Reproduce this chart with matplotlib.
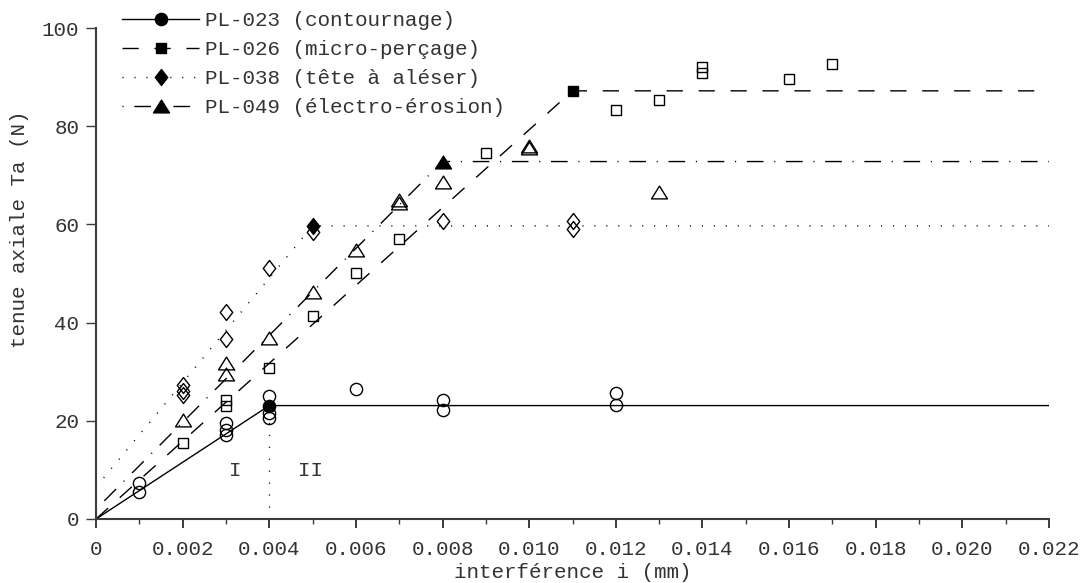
import matplotlib
matplotlib.use("Agg")
import matplotlib.pyplot as plt
from matplotlib.path import Path
from matplotlib.ticker import MultipleLocator, FuncFormatter

plt.rcParams['font.family'] = ['Liberation Mono', 'DejaVu Sans Mono']
plt.rcParams['font.size'] = 15

# Measured points: interference (mm) against axial hold (N)
i_023 = [0.001, 0.001, 0.003, 0.003, 0.003, 0.004, 0.004, 0.004, 0.006, 0.008, 0.008, 0.012, 0.012]
ta_023 = [7.3, 5.4, 19.5, 18.1, 17.2, 25.1, 21.5, 20.5, 26.4, 24.2, 22.2, 25.6, 23.2]

i_026 = [0.002, 0.003, 0.003, 0.004, 0.005, 0.006, 0.007, 0.009, 0.012, 0.013, 0.014, 0.014, 0.016, 0.017]
ta_026 = [15.5, 24.2, 23.1, 30.7, 41.4, 50.2, 57.0, 74.6, 83.2, 85.3, 92.1, 90.8, 89.6, 92.7]

i_038 = [0.002, 0.002, 0.002, 0.003, 0.003, 0.004, 0.005, 0.008, 0.011, 0.011]
ta_038 = [27.3, 26.0, 25.3, 42.2, 36.6, 51.1, 58.5, 60.7, 60.6, 59.1]

i_049 = [0.002, 0.003, 0.003, 0.004, 0.005, 0.006, 0.007, 0.007, 0.008, 0.010, 0.010, 0.013]
ta_049 = [20.2, 31.7, 29.5, 36.9, 46.3, 54.8, 65.0, 64.3, 68.7, 76.0, 75.5, 66.7]

# Bilinear models: rising part, knee, then plateau
fit_i_023 = [0, 0.004, 0.022]
fit_ta_023 = [0, 23.1, 23.1]
fit_i_026 = [0, 0.011, 0.022]
fit_ta_026 = [0, 87.2, 87.2]
fit_i_038 = [0, 0.005, 0.022]
fit_ta_038 = [6.5, 59.7, 59.7]
fit_i_049 = [0, 0.008, 0.022]
fit_ta_049 = [2.0, 72.8, 72.8]

labels = ["PL-023 (contournage)", "PL-026 (micro-perçage)",
          "PL-038 (tête à aléser)", "PL-049 (électro-érosion)"]

x_ticks = [0, 0.002, 0.004, 0.006, 0.008, 0.010, 0.012, 0.014, 0.016, 0.018, 0.020, 0.022]
y_ticks = [0, 20, 40, 60, 80, 100]

TEXT = '#333333'
AXIS = '#3c3c3c'


def closed_marker(verts):
    """ Polygon marker whose outline is closed (needed for open symbols) """
    return Path(verts + [verts[0]], closed=True)


diamond = closed_marker([(0, 1), (0.78, 0), (0, -1), (-0.78, 0)])
triangle = closed_marker([(-1, -0.8), (1, -0.8), (0, 0.8)])

series = [
    (i_023, ta_023, fit_i_023, fit_ta_023, 'o', 8.8, '-'),
    (i_026, ta_026, fit_i_026, fit_ta_026, 's', 7.6, (0, (11.7, 11.3))),
    (i_038, ta_038, fit_i_038, fit_ta_038, diamond, 11.5, (0, (0.8, 7.8))),
    (i_049, ta_049, fit_i_049, fit_ta_049, triangle, 11.5, (19.7, (12, 7.7, 0.8, 7.7))),
]

fig = plt.figure(figsize=(10.85, 5.83), dpi=100)
ax = fig.add_axes([96 / 1085, 64 / 583, 953 / 1085, 491 / 583])

handles = []
for (xs, ys, fx, fy, mk, ms, ls), name in zip(series, labels):
    # open symbols for each test
    ax.plot(xs, ys, linestyle='none', marker=mk, markersize=ms,
            markerfacecolor='none', markeredgecolor='black', markeredgewidth=1.0)
    # model line with a filled symbol at the knee
    h, = ax.plot(fx, fy, color='black', linewidth=1.0, linestyle=ls,
                 marker=mk, markevery=[1], markersize=ms,
                 markerfacecolor='black', markeredgecolor='black',
                 markeredgewidth=1.0, label=name)
    handles.append(h)

# boundary between zone I and zone II
ax.plot([0.004, 0.004], [0, 23.1], color='black', linewidth=1.0,
        linestyle=(0, (0.8, 7.8)))
ax.text(0.00321, 9.8, "I", ha='center', va='center', color=TEXT)
ax.text(0.00496, 9.8, "II", ha='center', va='center', color=TEXT)

ax.set_xlim(0, 0.022)
ax.set_ylim(0, 100)
ax.set_xticks(x_ticks)
ax.set_yticks(y_ticks)
ax.xaxis.set_minor_locator(MultipleLocator(0.001))
ax.xaxis.set_major_formatter(FuncFormatter(lambda v, p: '0' if abs(v) < 1e-9 else f'{v:.3f}'))
ax.yaxis.set_major_formatter(FuncFormatter(lambda v, p: f'{v:.0f}'))

for side in ['top', 'right']:
    ax.spines[side].set_visible(False)
for side in ['left', 'bottom']:
    ax.spines[side].set_linewidth(1.5)
    ax.spines[side].set_color(AXIS)

ax.tick_params(axis='x', which='major', direction='out', length=6.5, width=1.4,
               color=AXIS, labelcolor=TEXT, pad=8.5)
ax.tick_params(axis='x', which='minor', direction='out', length=3.5, width=1.0, color=AXIS)
ax.tick_params(axis='y', which='major', direction='out', length=7, width=1.0,
               color=AXIS, labelcolor=TEXT, pad=5)

ax.set_xlabel("interférence i (mm)", color=TEXT)
ax.xaxis.set_label_coords(0.5, -0.09)
fig.text(20 / 1085, 1 - 229 / 583, "tenue axiale Ta (N)", rotation=90,
         ha='center', va='center', color=TEXT)

leg = fig.legend(handles=handles, loc='upper left',
                 bbox_to_anchor=(122 / 1085, 1 - 11 / 583), bbox_transform=fig.transFigure,
                 frameon=False, borderpad=0, borderaxespad=0, numpoints=1,
                 handlelength=3.7, handletextpad=0.3, labelspacing=0.48)
for t in leg.get_texts():
    t.set_color(TEXT)

fig.savefig("out.png", dpi=100)
